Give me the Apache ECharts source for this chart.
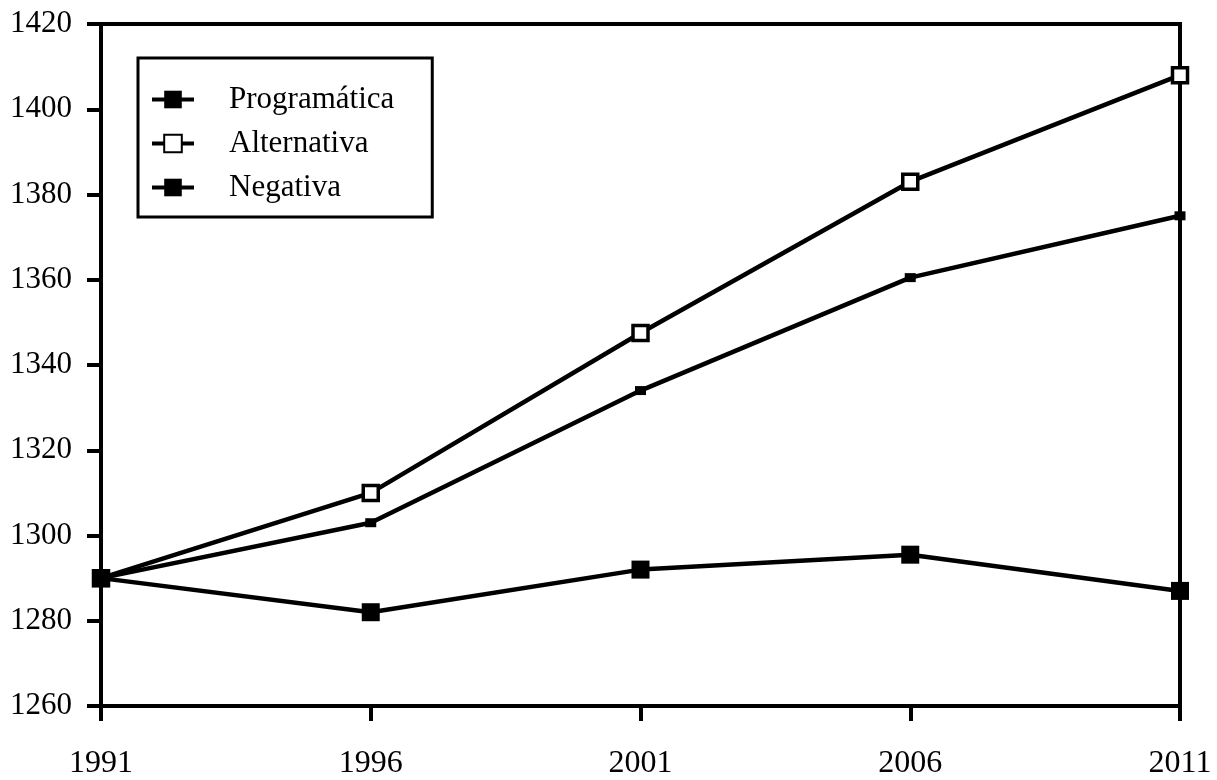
<!DOCTYPE html>
<html>
<head>
<meta charset="utf-8">
<style>
  html, body { margin: 0; padding: 0; background: #fff; }
  #chart { width: 1217px; height: 780px; }
</style>
<script src="https://cdn.jsdelivr.net/npm/echarts@6/dist/echarts.min.js"></script>
</head>
<body>
<div id="chart"></div>
<script>
var years = ['1991', '1996', '2001', '2006', '2011'];
var programatica = [1290, 1303, 1334, 1360.5, 1375];
var alternativa = [1290, 1310, 1347.5, 1383, 1408];
var negativa = [1290, 1282, 1292, 1295.5, 1287];

var font = 'Liberation Serif, Times New Roman, serif';

var chart = echarts.init(document.getElementById('chart'));

chart.setOption({
    backgroundColor: '#fff',
    animation: false,
    grid: {
        left: 101, right: 37, top: 24, bottom: 73,
        show: true, borderColor: '#000', borderWidth: 4
    },
    legend: {
        orient: 'vertical',
        left: 138, top: 58,
        backgroundColor: '#fff',
        borderColor: '#000',
        borderWidth: 3,
        borderRadius: 0,
        padding: [26, 38, 14, 12],
        itemWidth: 42,
        itemHeight: 22,
        itemGap: 13,
        lineStyle: { width: 4 },
        textStyle: { fontFamily: font, fontSize: 31, color: '#000', padding: [0, 0, 0, 30] },
        data: ['Programática', 'Alternativa', 'Negativa']
    },
    xAxis: {
        type: 'category',
        data: years,
        boundaryGap: false,
        axisLine: { lineStyle: { color: '#000', width: 4 } },
        axisTick: { length: 15, lineStyle: { color: '#000', width: 4 } },
        axisLabel: { margin: 42, fontFamily: font, fontSize: 32, color: '#000' },
        splitLine: { show: false }
    },
    yAxis: {
        type: 'value',
        min: 1260, max: 1420, interval: 20,
        axisLine: { show: true, lineStyle: { color: '#000', width: 4 } },
        axisTick: { show: true, length: 14, lineStyle: { color: '#000', width: 4 } },
        axisLabel: { margin: 29, fontFamily: font, fontSize: 31, color: '#000',
            formatter: function (v) { return String(v); } },
        splitLine: { show: false }
    },
    series: [
        {
            name: 'Programática', type: 'line', data: programatica,
            symbol: 'rect', symbolSize: [11, 9],
            lineStyle: { color: '#000', width: 4.5 },
            itemStyle: { color: '#000' }
        },
        {
            name: 'Alternativa', type: 'line', data: alternativa,
            symbol: 'rect', symbolSize: 15,
            lineStyle: { color: '#000', width: 4.5 },
            itemStyle: { color: '#fff', borderColor: '#000', borderWidth: 3.5 }
        },
        {
            name: 'Negativa', type: 'line', data: negativa,
            symbol: 'rect', symbolSize: 18,
            lineStyle: { color: '#000', width: 4.5 },
            itemStyle: { color: '#000' }
        }
    ]
});
</script>
</body>
</html>
